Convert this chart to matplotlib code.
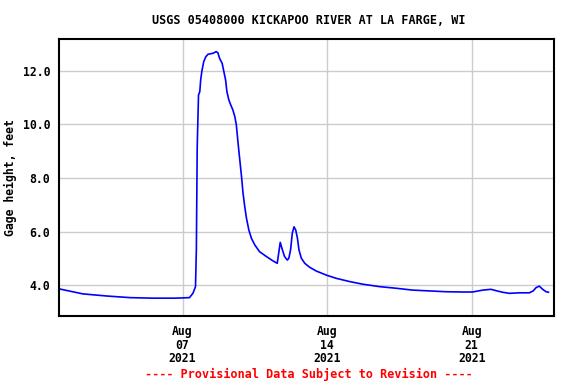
import numpy as np
import pandas as pd
import matplotlib
matplotlib.use('Agg')
import matplotlib.pyplot as plt
import matplotlib.dates as mdates

#-----------------------------------------------------------------------------------------------------------------------------------

times = ['2021-08-01 00:00', '2021-08-02 04:00', '2021-08-03 08:00', '2021-08-04 11:00', '2021-08-05 13:00',
         '2021-08-06 15:00', '2021-08-07 08:00', '2021-08-07 12:00', '2021-08-07 15:00', '2021-08-07 16:00',
         '2021-08-07 17:00', '2021-08-07 18:30', '2021-08-07 20:00', '2021-08-07 21:00', '2021-08-07 22:30',
         '2021-08-08 00:30', '2021-08-08 03:00', '2021-08-08 05:30', '2021-08-08 11:30', '2021-08-08 15:00',
         '2021-08-08 17:00', '2021-08-08 19:00', '2021-08-08 22:00', '2021-08-09 00:00', '2021-08-09 02:00',
         '2021-08-09 03:30', '2021-08-09 05:45', '2021-08-09 08:00', '2021-08-09 10:30', '2021-08-09 12:45',
         '2021-08-09 14:30', '2021-08-09 16:30', '2021-08-09 18:30', '2021-08-09 20:30', '2021-08-09 22:15',
         '2021-08-10 00:15', '2021-08-10 02:15', '2021-08-10 05:00', '2021-08-10 08:00', '2021-08-10 12:00',
         '2021-08-10 17:30', '2021-08-11 01:30', '2021-08-11 09:00', '2021-08-11 14:00', '2021-08-11 17:30',
         '2021-08-11 20:00', '2021-08-11 22:30', '2021-08-12 01:45', '2021-08-12 03:30', '2021-08-12 05:30',
         '2021-08-12 07:30', '2021-08-12 09:30', '2021-08-12 11:30', '2021-08-12 13:30', '2021-08-12 15:15',
         '2021-08-12 18:00', '2021-08-12 22:00', '2021-08-13 03:45', '2021-08-13 11:30', '2021-08-13 23:00',
         '2021-08-14 10:30', '2021-08-15 02:00', '2021-08-15 17:30', '2021-08-16 13:00', '2021-08-17 08:00',
         '2021-08-18 03:30', '2021-08-18 23:00', '2021-08-19 18:00', '2021-08-20 13:30', '2021-08-21 01:00',
         '2021-08-21 12:45', '2021-08-21 22:30', '2021-08-22 04:15', '2021-08-22 12:00', '2021-08-22 19:45',
         '2021-08-23 07:30', '2021-08-23 19:00', '2021-08-23 23:30', '2021-08-24 02:45', '2021-08-24 06:30',
         '2021-08-24 10:30', '2021-08-24 14:30', '2021-08-24 17:15']

gage = [3.87, 3.68, 3.60, 3.54, 3.52,
        3.52, 3.54, 3.70, 3.95, 5.32,
        9.17, 11.09, 11.22, 11.65, 12.00,
        12.33, 12.52, 12.61, 12.65, 12.71,
        12.67, 12.46, 12.27, 11.96, 11.65,
        11.22, 10.91, 10.72, 10.53, 10.28,
        9.97, 9.29, 8.67, 8.05, 7.43,
        6.93, 6.50, 6.06, 5.75, 5.50,
        5.25, 5.07, 4.91, 4.82, 5.60,
        5.32, 5.07, 4.94, 5.01, 5.32,
        5.94, 6.18, 6.06, 5.75, 5.32,
        5.01, 4.82, 4.67, 4.53, 4.38,
        4.26, 4.14, 4.04, 3.95, 3.89,
        3.82, 3.79, 3.76, 3.75, 3.75,
        3.82, 3.85, 3.80, 3.74, 3.70,
        3.72, 3.72, 3.79, 3.91, 3.97,
        3.85, 3.76, 3.74]

yticks = [4.0, 6.0, 8.0, 10.0, 12.0]
xticks = ['2021-08-07', '2021-08-14', '2021-08-21']

#-----------------------------------------------------------------------------------------------------------------------------------

t = pd.to_datetime(times)
mono = 'DejaVu Sans Mono'
fs = 8.3

fig = plt.figure(figsize=(5.76, 3.84), dpi=100)
ax = fig.add_axes([0.1019, 0.1779, 0.8604, 0.7198])

ax.plot(t, gage, color='blue', lw=1.2)

ax.set_xlim(pd.Timestamp('2021-08-01'), pd.Timestamp('2021-08-25'))
ax.set_ylim(2.867, 13.17)

ax.set_yticks(yticks)
ax.set_yticklabels(['%.1f' % v for v in yticks], family=mono, fontsize=fs, fontweight='bold')
xt = pd.to_datetime(xticks)
ax.set_xticks(xt)
ax.set_xticklabels([d.strftime('%b\n%d\n%Y') for d in xt], family=mono, fontsize=fs,
                   fontweight='bold', linespacing=1.08)
ax.tick_params(axis='y', length=0, pad=6)
ax.tick_params(axis='x', length=0, pad=6.5)
ax.grid(True, color='#cccccc', lw=1.0)
ax.set_axisbelow(True)
for s in ax.spines.values():
    s.set_linewidth(1.5)

ax.set_ylabel('Gage height, feet', family=mono, fontsize=fs, fontweight='bold', labelpad=4)

fig.text(309/576, 1 - 20/384, 'USGS 05408000 KICKAPOO RIVER AT LA FARGE, WI', ha='center', va='center',
         family=mono, fontsize=8.5, fontweight='bold')
fig.text(309/576, 1 - 374/384, '---- Provisional Data Subject to Revision ----', ha='center', va='center',
         family=mono, fontsize=8.5, fontweight='bold', color='red')

plt.savefig('out.png')
